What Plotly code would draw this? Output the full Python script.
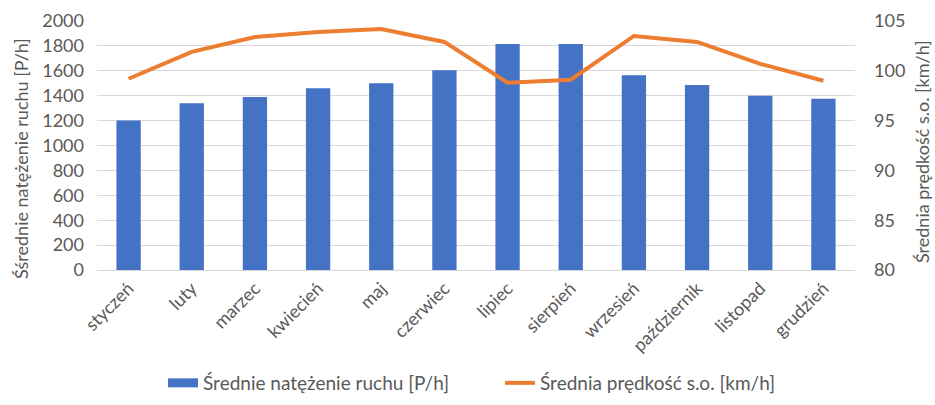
import plotly.graph_objects as go

months = ["styczeń", "luty", "marzec", "kwiecień", "maj", "czerwiec",
          "lipiec", "sierpień", "wrzesień", "październik", "listopad", "grudzień"]
traffic = [1200, 1340, 1390, 1460, 1500, 1605, 1815, 1815, 1565, 1485, 1400, 1375]
speed = [99.2, 101.9, 103.4, 103.9, 104.2, 102.9, 98.8, 99.1, 103.5, 102.9, 100.7, 99.0]

left_title = "Śśrednie natężenie ruchu [P/h]"
right_title = "Średnia prędkość s.o. [km/h]"
bar_name = "Średnie natężenie ruchu [P/h]"
line_name = "Średnia prędkość s.o. [km/h]"

FONT = "Lato, Calibri, sans-serif"
GREY = "#595959"
BLUE = "#4472C4"
ORANGE = "#ED7D31"

fig = go.Figure()
fig.add_trace(go.Bar(
    x=months, y=traffic, name=bar_name, showlegend=False,
    marker=dict(color=BLUE, line=dict(width=0)), yaxis="y",
))
# legend-only entry giving the bar series a wide flat swatch
fig.add_trace(go.Scatter(
    x=[None], y=[None], name=bar_name, mode="lines",
    line=dict(color=BLUE, width=9), yaxis="y",
))
fig.add_trace(go.Scatter(
    x=months, y=speed, name=line_name,
    mode="lines", line=dict(color=ORANGE, width=4), yaxis="y2",
))

W, H = 935, 405
ml, mr, mt, mb = 97, 80, 21, 135
pw = W - ml - mr
ph = H - mt - mb

fig.update_layout(
    width=W, height=H,
    margin=dict(l=ml, r=mr, t=mt, b=mb, autoexpand=False),
    paper_bgcolor="white", plot_bgcolor="white",
    font=dict(family=FONT, size=18, color=GREY),
    bargap=0.615,
    showlegend=True,
    legend=dict(orientation="h", x=(500 - ml) / pw, xanchor="center",
                y=-(383 - (mt + ph)) / ph, yanchor="middle",
                font=dict(size=19, color=GREY), itemwidth=30,
                entrywidth=292, entrywidthmode="pixels",
                traceorder="normal", tracegroupgap=0),
    xaxis=dict(tickangle=-45, showgrid=False, showline=True, linecolor="#D9D9D9",
               ticks="", automargin=False, tickfont=dict(size=18, color=GREY)),
    yaxis=dict(range=[0, 2000], dtick=200, showgrid=True, gridcolor="#D9D9D9",
               zeroline=False, ticks="", ticklabelstandoff=12, automargin=False,
               tickfont=dict(size=18, color=GREY)),
    yaxis2=dict(range=[80, 105], dtick=5, overlaying="y", side="right",
                showgrid=False, zeroline=False, ticks="", ticklabelstandoff=18,
                automargin=False, tickfont=dict(size=18, color=GREY)),
    annotations=[
        dict(text=left_title, textangle=-90, xref="paper", yref="paper",
             x=(21 - ml) / pw, y=(mt + ph - 159) / ph, xanchor="center", yanchor="middle",
             showarrow=False, font=dict(size=18, color=GREY)),
        dict(text=right_title, textangle=-90, xref="paper", yref="paper",
             x=(922 - ml) / pw, y=(mt + ph - 152) / ph, xanchor="center", yanchor="middle",
             showarrow=False, font=dict(size=18, color=GREY)),
    ],
)

fig.write_html("out.html")
